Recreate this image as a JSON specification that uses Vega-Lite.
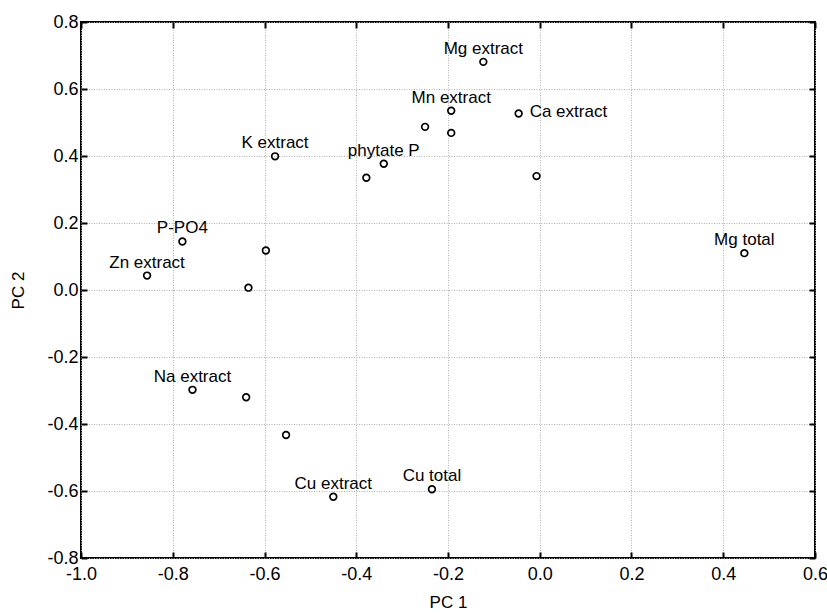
{
  "$schema": "https://vega.github.io/schema/vega-lite/v6.json",
  "width": 734,
  "height": 536,
  "autosize": "none",
  "padding": {"left": 81, "top": 22, "right": 12, "bottom": 56},
  "background": "white",
  "config": {
    "font": "Liberation Sans",
    "view": {"stroke": "black", "strokeWidth": 2},
    "axis": {
      "labelFont": "Liberation Sans",
      "titleFont": "Liberation Sans",
      "labelColor": "black",
      "titleColor": "black",
      "labelFontSize": 18,
      "titleFontSize": 17,
      "titleFontWeight": "normal",
      "domain": false,
      "tickColor": "black",
      "tickWidth": 2,
      "tickSize": -6,
      "gridColor": "#b0b0b0",
      "gridDash": [1, 1.5],
      "gridWidth": 1
    }
  },
  "data": {
    "values": [
      {"pc1": -0.123, "pc2": 0.681, "label": "Mg extract"},
      {"pc1": -0.193, "pc2": 0.535, "label": "Mn extract"},
      {"pc1": -0.193, "pc2": 0.469, "label": ""},
      {"pc1": -0.250, "pc2": 0.487, "label": ""},
      {"pc1": -0.046, "pc2": 0.527, "label": "Ca extract"},
      {"pc1": -0.007, "pc2": 0.340, "label": ""},
      {"pc1": 0.446, "pc2": 0.110, "label": "Mg total"},
      {"pc1": -0.577, "pc2": 0.399, "label": "K extract"},
      {"pc1": -0.340, "pc2": 0.377, "label": "phytate P"},
      {"pc1": -0.378, "pc2": 0.335, "label": ""},
      {"pc1": -0.779, "pc2": 0.145, "label": "P-PO4"},
      {"pc1": -0.597, "pc2": 0.118, "label": ""},
      {"pc1": -0.856, "pc2": 0.043, "label": "Zn extract"},
      {"pc1": -0.635, "pc2": 0.007, "label": ""},
      {"pc1": -0.757, "pc2": -0.298, "label": "Na extract"},
      {"pc1": -0.640, "pc2": -0.320, "label": ""},
      {"pc1": -0.553, "pc2": -0.433, "label": ""},
      {"pc1": -0.450, "pc2": -0.617, "label": "Cu extract"},
      {"pc1": -0.235, "pc2": -0.595, "label": "Cu total"}
    ]
  },
  "resolve": {"axis": {"x": "independent", "y": "independent"}},
  "layer": [
    {
      "mark": {"type": "point", "shape": "circle", "filled": false, "stroke": "black", "strokeWidth": 1.7, "size": 45, "opacity": 1},
      "encoding": {
        "x": {
          "field": "pc1", "type": "quantitative",
          "scale": {"domain": [-1, 0.6], "nice": false, "zero": false},
          "axis": {
            "orient": "bottom", "title": "PC 1",
            "values": [-1.0, -0.8, -0.6, -0.4, -0.2, 0.0, 0.2, 0.4, 0.6],
            "format": ".1f", "labelExpr": "replace(datum.label, '\u2212', '-')",
            "labelPadding": 13, "titlePadding": 11, "labelFlush": false
          }
        },
        "y": {
          "field": "pc2", "type": "quantitative",
          "scale": {"domain": [-0.8, 0.8], "nice": false, "zero": false},
          "axis": {
            "orient": "left", "title": "PC 2",
            "values": [-0.8, -0.6, -0.4, -0.2, 0.0, 0.2, 0.4, 0.6, 0.8],
            "format": ".1f", "labelExpr": "replace(datum.label, '\u2212', '-')",
            "labelPadding": 9, "titlePadding": 19, "labelFlush": false
          }
        }
      }
    },
    {
      "transform": [{"filter": "datum.label != '' && datum.label != 'Ca extract'"}],
      "mark": {"type": "text", "baseline": "alphabetic", "align": "center", "dy": -8, "fontSize": 17, "color": "black"},
      "encoding": {
        "x": {
          "field": "pc1", "type": "quantitative",
          "axis": {"orient": "top", "title": null, "labels": false, "grid": false,
                   "values": [-1.0, -0.8, -0.6, -0.4, -0.2, 0.0, 0.2, 0.4, 0.6]}
        },
        "y": {
          "field": "pc2", "type": "quantitative",
          "axis": {"orient": "right", "title": null, "labels": false, "grid": false,
                   "values": [-0.8, -0.6, -0.4, -0.2, 0.0, 0.2, 0.4, 0.6, 0.8]}
        },
        "text": {"field": "label"}
      }
    },
    {
      "transform": [{"filter": "datum.label == 'Ca extract'"}],
      "mark": {"type": "text", "baseline": "middle", "align": "left", "dx": 11, "dy": -1, "fontSize": 17, "color": "black"},
      "encoding": {
        "x": {"field": "pc1", "type": "quantitative", "axis": null},
        "y": {"field": "pc2", "type": "quantitative", "axis": null},
        "text": {"field": "label"}
      }
    }
  ]
}
